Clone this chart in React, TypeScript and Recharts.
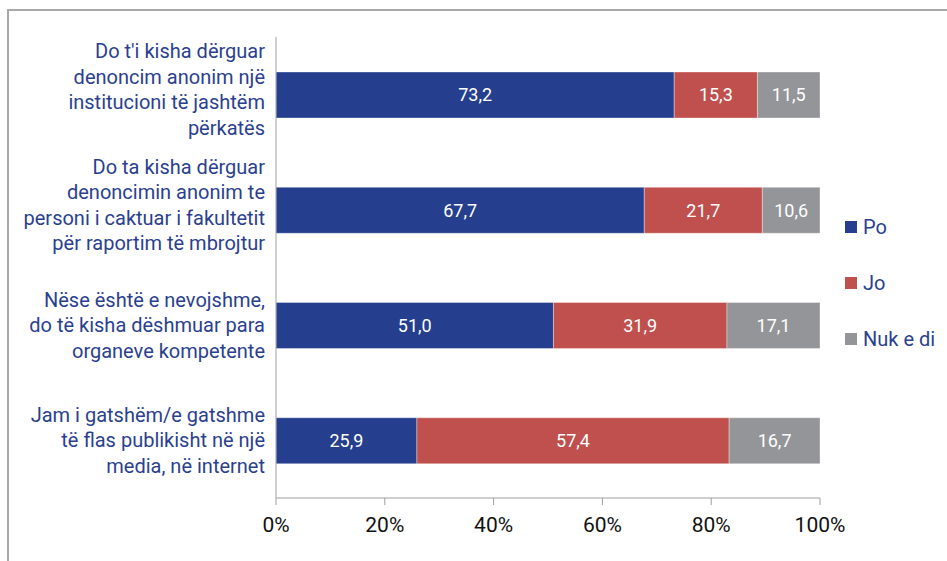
import { Bar, BarChart, LabelList, XAxis, YAxis } from "recharts"

const categories = [
  ["Do t'i kisha dërguar", "denoncim anonim një", "institucioni të jashtëm", "përkatës"],
  ["Do ta kisha dërguar", "denoncimin anonim te", "personi i caktuar i fakultetit", "për raportim të mbrojtur"],
  ["Nëse është e nevojshme,", "do të kisha dëshmuar para", "organeve kompetente"],
  ["Jam i gatshëm/e gatshme", "të flas publikisht në një", "media, në internet"],
]
const po = [73.2, 67.7, 51.0, 25.9]
const jo = [15.3, 21.7, 31.9, 57.4]
const nukEDi = [11.5, 10.6, 17.1, 16.7]
const xTicks = [0, 20, 40, 60, 80, 100]

const series = [
  { key: "po", name: "Po", color: "#253f8e" },
  { key: "jo", name: "Jo", color: "#c0504d" },
  { key: "nuk", name: "Nuk e di", color: "#949599" },
]

const data = categories.map((lines, i) => ({
  label: lines.join("|"),
  po: po[i],
  jo: jo[i],
  nuk: nukEDi[i],
}))

const FONT = "Roboto, 'Noto Sans', sans-serif"
const BLUE_TEXT = "#2b3f8f"

function CategoryTick(props: any) {
  const { y, payload } = props
  const lines: string[] = String(payload.value).split("|")
  const lh = 25.5
  const start = y - ((lines.length - 1) * lh) / 2 - (lines.length > 3 ? 5 : 0)
  const right = 265
  return (
    <text x={right} y={start} textAnchor="end" fill={BLUE_TEXT} fontSize={20} fontFamily={FONT}>
      {lines.map((l, i) => (
        <tspan key={i} x={right} y={start + i * lh} dy="0.35em">
          {l}
        </tspan>
      ))}
    </text>
  )
}

function ChartLegend() {
  return (
    <div style={{ position: "absolute", left: 845, top: 217, fontFamily: FONT }}>
      {series.map((s, i) => (
        <div
          key={s.key}
          style={{ display: "flex", alignItems: "center", height: 20, marginBottom: i < series.length - 1 ? 36 : 0 }}
        >
          <span style={{ width: 12, height: 12, background: s.color, display: "inline-block", marginRight: 6 }} />
          <span style={{ color: BLUE_TEXT, fontSize: 20 }}>{s.name}</span>
        </div>
      ))}
    </div>
  )
}

export default function App() {
  return (
    <div style={{ position: "absolute", left: 0, top: 0, width: 947, height: 561, overflow: "hidden", background: "#fff" }}>
      <div
        style={{
          position: "absolute",
          left: 7,
          top: 9,
          width: 960,
          height: 600,
          borderTop: "2px solid #a8a8a8",
          borderLeft: "2px solid #a8a8a8",
        }}
      />
      <BarChart
        width={947}
        height={561}
        data={data}
        layout="vertical"
        barSize={46}
        margin={{ top: 37, right: 127, bottom: 0, left: 0 }}
        style={{ position: "absolute", left: 0, top: 0 }}
      >
        <XAxis
          type="number"
          domain={[0, 100]}
          ticks={xTicks}
          tickFormatter={(v) => `${v}%`}
          stroke="#a0a0a0"
          tickSize={7}
          tickMargin={12}
          tick={{ fill: "#111", fontSize: 21, fontFamily: FONT }}
          height={63}
        />
        <YAxis
          type="category"
          dataKey="label"
          width={276}
          stroke="#a0a0a0"
          tickLine={false}
          tick={<CategoryTick />}
          interval={0}
        />
        {series.map((s) => (
          <Bar
            key={s.key}
            dataKey={s.key}
            name={s.name}
            stackId="a"
            fill={s.color}
            stroke="#ffffff"
            strokeOpacity={0.35}
            isAnimationActive={false}
          >
            <LabelList
              dataKey={s.key}
              position="center"
              fill="#ffffff"
              fontSize={18}
              fontFamily={FONT}
              formatter={(v: any) => Number(v).toFixed(1).replace(".", ",")}
            />
          </Bar>
        ))}
      </BarChart>
      <ChartLegend />
    </div>
  )
}
